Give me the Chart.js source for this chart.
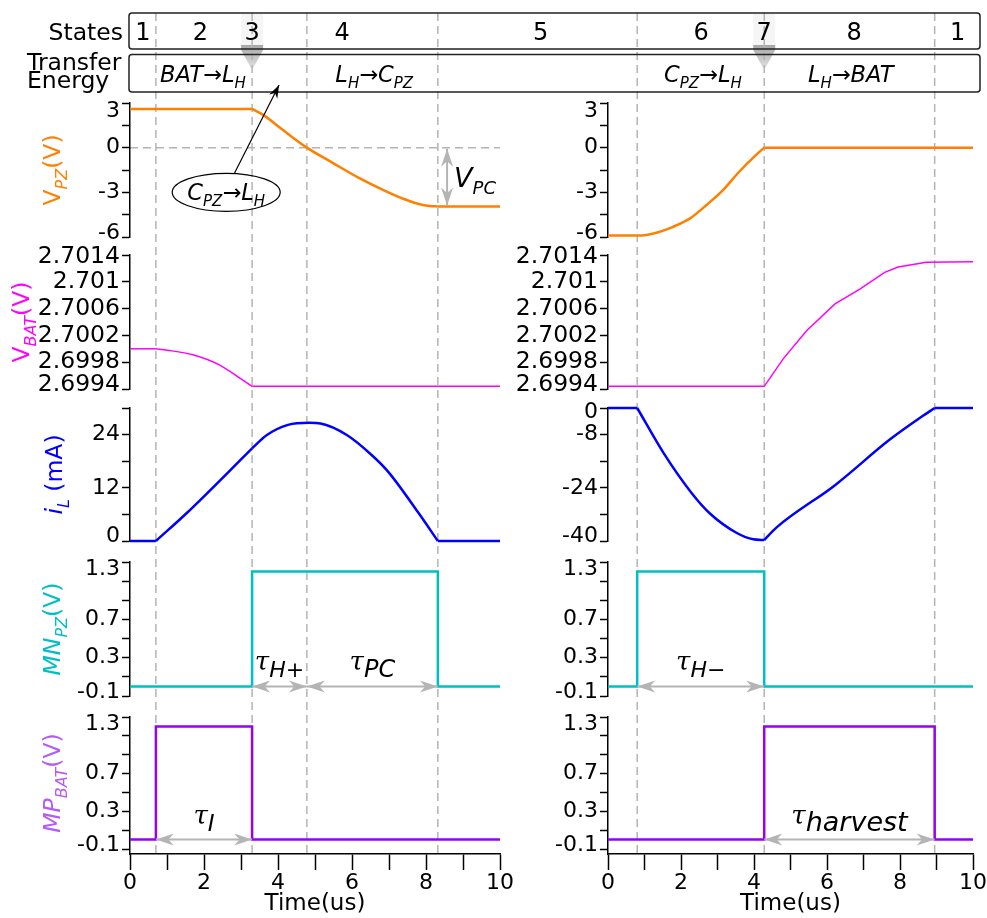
<!DOCTYPE html>
<html>
<head>
<meta charset="utf-8">
<title>Converter waveforms</title>
<script src="https://cdn.jsdelivr.net/npm/chart.js@4.4.1/dist/chart.umd.min.js"></script>
<style>
  body { margin: 0; background: #fff; }
  #wrap { position: relative; width: 987px; height: 918px; overflow: hidden; background: #fff; }
  #wrap canvas { position: absolute; }
</style>
</head>
<body>
<div id="wrap"></div>
<script>
const FONT = '"DejaVu Sans", sans-serif';
Chart.defaults.font.family = FONT;
Chart.defaults.color = '#000';

// time axis (us), same for both half cycles
const timeTicks = [0, 1, 2, 3, 4, 5, 6, 7, 8, 9, 10];
const timeLabels = [0, 2, 4, 6, 8, 10];

// switching instants (dashed lines)
const edgesL = [0.7, 3.3, 4.78, 8.32];
const edgesR = [0.8, 4.28, 8.95];
// waveforms have corners only at these instants
const breaksL = [0.7, 3.3, 8.32];
const breaksR = [0.8, 4.28, 8.95];

// V_PZ (V)
const vpzLT = [0, 3.3, 3.6, 4.1, 4.78, 5.5, 6.2, 6.85, 7.4, 7.8, 8.1, 8.32, 10];
const vpzLV = [2.6, 2.6, 2.2, 1.25, 0, -1.05, -2.05, -2.85, -3.45, -3.78, -3.92, -3.95, -3.95];
const vpzRT = [0, 0.8, 1.0, 1.35, 1.75, 2.25, 2.7, 3.15, 3.6, 4.05, 4.28, 10];
const vpzRV = [-5.9, -5.9, -5.88, -5.7, -5.35, -4.75, -3.85, -2.85, -1.6, -0.5, 0, 0];

// V_BAT (V)
const vbatLT = [0, 0.7, 1.0, 1.7, 2.45, 3.0, 3.3, 10];
const vbatLV = [2.7, 2.7, 2.69998, 2.69991, 2.69975, 2.69955, 2.69944, 2.69944];
const vbatRT = [0, 4.28, 4.8, 5.44, 6.22, 6.9, 7.58, 7.95, 8.72, 10];
const vbatRV = [2.69944, 2.69944, 2.69985, 2.70027, 2.70067, 2.70089, 2.70114, 2.70122, 2.70129, 2.7013];

// i_L (mA)
const ilLT = [0, 0.7, 1.52, 3.3, 3.7, 4.27, 4.85, 5.15, 5.86, 6.53, 6.98, 7.8, 8.32, 10];
const ilLV = [0, 0, 6.2, 20.9, 23.9, 26.2, 26.65, 26.5, 23.9, 19.4, 15.6, 6.3, 0, 0];
const ilRT = [0, 0.8, 1.52, 2.3, 2.8, 3.53, 3.98, 4.28, 4.62, 6.22, 7.72, 8.63, 8.95, 10];
const ilRV = [0, 0, -13.5, -25.7, -31.8, -37.6, -39.5, -39.7, -35.9, -23.2, -9.5, -2.35, 0, 0];

// gate drives (V)
const mnLT = [0, 3.3, 3.3, 8.32, 8.32, 10];
const mnLV = [0, 0, 1.2, 1.2, 0, 0];
const mnRT = [0, 0.8, 0.8, 4.28, 4.28, 10];
const mnRV = [0, 0, 1.2, 1.2, 0, 0];
const mpLT = [0, 0.7, 0.7, 3.3, 3.3, 10];
const mpLV = [0, 0, 1.2, 1.2, 0, 0];
const mpRT = [0, 4.28, 4.28, 8.95, 8.95, 10];
const mpRV = [0, 0, 1.2, 1.2, 0, 0];

// y axis ticks and labels
const vpzTicks = [-6, -4.5, -3, -1.5, 0, 1.5, 3];
const vpzLabels = [3, 0, -3, -6];
const vbatTicks = [2.6994, 2.6998, 2.7002, 2.7006, 2.701, 2.7014];
const vbatLabels = [2.7014, 2.701, 2.7006, 2.7002, 2.6998, 2.6994];
const ilLTicks = [0, 6, 12, 18, 24, 30];
const ilLLabels = [24, 12, 0];
const ilRTicks = [-40, -32, -24, -16, -8, 0];
const ilRLabels = [0, -8, -24, -40];
const gateTicks = [-0.1, 0.1, 0.3, 0.5, 0.7, 0.9, 1.1, 1.3];
const gateLabels = [1.3, 0.7, 0.3, -0.1];

// header: states and energy transfers
const stateNames = ['1', '2', '3', '4', '5', '6', '7', '8', '1'];
const stateCols = ['L', 'L', 'L', 'L', 'L', 'R', 'R', 'R', 'R'];
const stateTimes = [0.35, 1.9, 3.3, 5.73, 11.1, 2.55, 4.28, 6.74, 9.58];
const transferText = [
  [['BAT→L', 'i'], ['H', 'is']],
  [['L', 'i'], ['H', 'is'], ['→C', 'i'], ['PZ', 'is']],
  [['C', 'i'], ['PZ', 'is'], ['→L', 'i'], ['H', 'is']],
  [['L', 'i'], ['H', 'is'], ['→BAT', 'i']]
];
const transferCols = ['L', 'L', 'R', 'R'];
const transferTimes = [1.97, 6.6, 2.6, 6.65];
const markerCols = ['L', 'R'];
const markerTimes = [3.3, 4.28];

const ORANGE = '#ff8000', MAGENTA = '#ff00ff', BLUE = '#0000ff', CYAN = '#00bfc4', PURPLE = '#9900ee';

const cols = {
  L: { left: 0, axisW: 130, w: 514, breaks: breaksL },
  R: { left: 500, axisW: 108, w: 487, breaks: breaksR }
};
const rows = [
  { top: 103, h: 134 },
  { top: 255, h: 134 },
  { top: 408, h: 133 },
  { top: 562, h: 134 },
  { top: 717, h: 137 }
];

const specs = [
  { col: 'L', row: 0, t: vpzLT, v: vpzLV, min: -6, max: 3, ticks: vpzTicks, labels: vpzLabels, color: ORANGE, lw: 2.5, smooth: true,
    shift: [8, 4], title: [['V'], ['PZ', 'is'], ['(V)']], titleX: 52, titleColor: ORANGE },
  { col: 'R', row: 0, t: vpzRT, v: vpzRV, min: -6, max: 3, ticks: vpzTicks, labels: vpzLabels, color: ORANGE, lw: 2.5, smooth: true, shift: [8, 4] },
  { col: 'L', row: 1, t: vbatLT, v: vbatLV, min: 2.6994, max: 2.7014, ticks: vbatTicks, labels: vbatLabels, color: MAGENTA, lw: 1.5, smooth: true,
    shift: [2, 4], size: 23.5, title: [['V'], ['BAT', 'is'], ['(V)']], titleX: 21, titleColor: MAGENTA },
  { col: 'R', row: 1, t: vbatRT, v: vbatRV, min: 2.6994, max: 2.7014, ticks: vbatTicks, labels: vbatLabels, color: MAGENTA, lw: 1.5,
    shift: [2, 4], size: 23.5 },
  { col: 'L', row: 2, t: ilLT, v: ilLV, min: 0, max: 30, ticks: ilLTicks, labels: ilLLabels, color: BLUE, lw: 2.5, smooth: true,
    shift: [4, 5], title: [['i', 'i'], ['L', 'is'], [' (mA)']], titleX: 54, titleColor: BLUE },
  { col: 'R', row: 2, t: ilRT, v: ilRV, min: -40, max: 0, ticks: ilRTicks, labels: ilRLabels, color: BLUE, lw: 2.5, smooth: true, shift: [4, 5] },
  { col: 'L', row: 3, t: mnLT, v: mnLV, min: -0.1, max: 1.3, ticks: gateTicks, labels: gateLabels, color: CYAN, lw: 2.5,
    shift: [7, 4], title: [['MN', 'i'], ['PZ', 'is'], ['(V)']], titleX: 52, titleColor: CYAN },
  { col: 'R', row: 3, t: mnRT, v: mnRV, min: -0.1, max: 1.3, ticks: gateTicks, labels: gateLabels, color: CYAN, lw: 2.5, shift: [7, 4] },
  { col: 'L', row: 4, t: mpLT, v: mpLV, min: -0.153, max: 1.3, ticks: gateTicks, labels: gateLabels, color: PURPLE, lw: 2.5,
    shift: [7, 4], title: [['MP', 'i'], ['BAT', 'is'], ['(V)']], titleX: 52, titleColor: '#b35cf5' },
  { col: 'R', row: 4, t: mpRT, v: mpRV, min: -0.153, max: 1.3, ticks: gateTicks, labels: gateLabels, color: PURPLE, lw: 2.5, shift: [7, 4] }
];

const wrap = document.getElementById('wrap');
function addCanvas(left, top, w, h) {
  const c = document.createElement('canvas');
  c.width = w; c.height = h;
  c.style.left = left + 'px'; c.style.top = top + 'px';
  c.style.width = w + 'px'; c.style.height = h + 'px';
  wrap.appendChild(c);
  return c;
}

// cut a waveform at its switching corners so each piece is smoothed on its own
function pieces(t, v, breaks) {
  const out = [];
  let cur = [];
  t.forEach((x, i) => {
    cur.push({ x, y: v[i] });
    if (i > 0 && i < t.length - 1 && breaks.includes(x) && t[i + 1] !== x) {
      out.push(cur);
      cur = [{ x, y: v[i] }];
    }
  });
  out.push(cur);
  return out;
}

// text with subscripts, parts = [text, flags] (i italic, s subscript)
function drawRich(ctx, parts, x, y, size, align) {
  const sub = Math.round(size * 0.66);
  const fonts = parts.map(p => {
    const f = p[1] || '';
    return (f.includes('i') ? 'italic ' : '') + (f.includes('s') ? sub : size) + 'px ' + FONT;
  });
  let w = 0;
  const ws = parts.map((p, i) => { ctx.font = fonts[i]; const m = ctx.measureText(p[0]).width; w += m; return m; });
  let cx = align === 'left' ? x : align === 'right' ? x - w : x - w / 2;
  ctx.textAlign = 'left';
  ctx.textBaseline = 'alphabetic';
  parts.forEach((p, i) => {
    ctx.font = fonts[i];
    ctx.fillText(p[0], cx, y + ((p[1] || '').includes('s') ? size * 0.27 : 0));
    cx += ws[i];
  });
  return w;
}

// y tick labels kept inside the panel, plus the rotated axis title
const axisText = {
  id: 'axisText',
  afterDraw(chart, args, o) {
    if (!o.labels) return;
    const ctx = chart.ctx, ys = chart.scales.y, a = chart.chartArea;
    const hi = Math.max(...o.ticks), lo = Math.min(...o.ticks);
    ctx.save();
    ctx.fillStyle = '#000';
    ctx.font = o.size + 'px ' + FONT;
    ctx.textAlign = 'right';
    ctx.textBaseline = 'middle';
    o.labels.forEach(v => {
      let py = ys.getPixelForValue(v);
      if (v === hi) py += o.shift[0];
      if (v === lo) py -= o.shift[1];
      ctx.fillText(String(v), a.left - 10, py);
    });
    if (o.title) {
      const cy = (ys.getPixelForValue(hi) + ys.getPixelForValue(lo)) / 2;
      ctx.fillStyle = o.titleColor;
      ctx.translate(o.titleX, cy);
      ctx.rotate(-Math.PI / 2);
      drawRich(ctx, o.title, 0, 23.5 * 0.36, 23.5, 'center');
    }
    ctx.restore();
  }
};

const bg = addCanvas(0, 0, 987, 918);

function makeChart(s) {
  const col = cols[s.col], row = rows[s.row];
  const bottom = s.row === 4;
  const padT = 10, padB = bottom ? 0 : 10, xH = bottom ? 64 : 0;
  const top = row.top - padT;
  const cv = addCanvas(col.left, top, col.w, row.h + padT + padB + xH);
  const parts = s.smooth ? pieces(s.t, s.v, col.breaks) : [s.t.map((t, i) => ({ x: t, y: s.v[i] }))];
  const chart = new Chart(cv, {
    type: 'line',
    data: {
      datasets: parts.map(pts => ({
        data: pts, borderColor: s.color, borderWidth: s.lw, pointRadius: 0, fill: false, clip: false,
        tension: s.smooth ? 0.4 : 0, cubicInterpolationMode: s.smooth ? 'monotone' : 'default'
      }))
    },
    options: {
      responsive: false,
      maintainAspectRatio: false,
      animation: false,
      devicePixelRatio: 1,
      events: [],
      layout: { autoPadding: false, padding: { top: padT, bottom: padB, left: 0, right: 14 } },
      plugins: {
        legend: { display: false },
        tooltip: { enabled: false },
        axisText: { labels: s.labels, ticks: s.ticks, shift: s.shift, size: s.size || 22,
          title: s.title, titleX: s.titleX, titleColor: s.titleColor }
      },
      scales: {
        x: {
          type: 'linear', min: 0, max: 10, display: bottom,
          afterBuildTicks: sc => { sc.ticks = timeTicks.map(v => ({ value: v })); },
          ticks: { autoSkip: false, maxRotation: 0, padding: 0, font: { size: 22 }, color: '#000',
            callback: v => timeLabels.includes(v) ? String(v) : '' },
          grid: { drawOnChartArea: false, tickLength: 16, tickColor: '#000', tickWidth: 1.5 },
          border: { color: '#000', width: 1.5 },
          title: { display: true, text: 'Time(us)', font: { size: 23 }, color: '#000', padding: { top: 0, bottom: 0 } },
          afterFit: sc => { sc.height = xH; }
        },
        y: {
          type: 'linear', min: s.min, max: s.max,
          afterBuildTicks: sc => { sc.ticks = s.ticks.map(v => ({ value: v })); },
          ticks: { display: false },
          grid: { drawOnChartArea: false, tickLength: 8, tickColor: '#000', tickWidth: 1.5 },
          border: { color: '#000', width: 1.5 },
          afterFit: sc => { sc.width = col.axisW; }
        }
      }
    },
    plugins: [axisText]
  });
  chart.$off = { x: col.left, y: top };
  return chart;
}

const charts = specs.map(makeChart);
const ref = { L: charts[0], R: charts[1] };
const px = (c, t) => ref[c].scales.x.getPixelForValue(t) + ref[c].$off.x;
const py = (chart, v) => chart.scales.y.getPixelForValue(v) + chart.$off.y;

// ---------- background: header boxes, markers, dashed guides ----------
(function drawBackground() {
  const ctx = bg.getContext('2d');
  const boxL = px('L', 0) - 1, boxR = px('R', 10) + 7;
  const xAxisY = py(charts[8], -0.153);

  // state 3 / state 7 markers
  markerTimes.forEach((t, i) => {
    const x = px(markerCols[i], t);
    ctx.fillStyle = 'rgba(170,170,170,0.12)';
    ctx.fillRect(x - 11, 14, 22, 31);
    const g = ctx.createLinearGradient(0, 45, 0, 70);
    g.addColorStop(0, 'rgba(150,150,150,0.85)');
    g.addColorStop(1, 'rgba(215,215,215,0.7)');
    ctx.fillStyle = g;
    ctx.beginPath();
    ctx.moveTo(x - 11, 45); ctx.lineTo(x + 11, 45); ctx.lineTo(x + 11, 50);
    ctx.lineTo(x, 70); ctx.lineTo(x - 11, 50); ctx.closePath();
    ctx.fill();
  });

  // dashed guides
  ctx.strokeStyle = '#b4b4b4';
  ctx.lineWidth = 1.5;
  ctx.setLineDash([8, 5]);
  const guides = edgesL.map(t => px('L', t)).concat(edgesR.map(t => px('R', t)));
  guides.forEach(x => {
    ctx.beginPath(); ctx.moveTo(x, 13); ctx.lineTo(x, xAxisY); ctx.stroke();
  });
  const zy = py(charts[0], 0);
  ctx.beginPath(); ctx.moveTo(px('L', 0), zy); ctx.lineTo(px('L', 10), zy); ctx.stroke();
  ctx.setLineDash([]);

  // boxes
  ctx.strokeStyle = '#222';
  ctx.lineWidth = 1.5;
  ctx.beginPath(); ctx.roundRect(boxL, 13, boxR - boxL, 36, 3); ctx.stroke();
  ctx.beginPath(); ctx.roundRect(boxL, 54.5, boxR - boxL, 37.5, 3); ctx.stroke();

  ctx.fillStyle = '#000';
  ctx.font = '23.5px ' + FONT;
  ctx.textAlign = 'right'; ctx.textBaseline = 'alphabetic';
  ctx.fillText('States', 123, 39.5);
  ctx.textAlign = 'left';
  ctx.fillText('Transfer', 27, 70);
  ctx.fillText('Energy', 27, 87.5);

  ctx.font = '24px ' + FONT;
  ctx.textAlign = 'center';
  stateNames.forEach((n, i) => ctx.fillText(n, px(stateCols[i], stateTimes[i]), 40));

  transferText.forEach((parts, i) => drawRich(ctx, parts, px(transferCols[i], transferTimes[i]), 82, 22.5, 'center'));
})();

// ---------- foreground annotations ----------
const fg = addCanvas(0, 0, 987, 918);
(function drawAnnotations() {
  const ctx = fg.getContext('2d');
  const GREY = '#b4b4b4';

  function head(x, y, ang, len, half) {
    ctx.save();
    ctx.translate(x, y); ctx.rotate(ang);
    ctx.beginPath();
    ctx.moveTo(0, 0); ctx.lineTo(-len, -half); ctx.lineTo(-len * 0.7, 0); ctx.lineTo(-len, half);
    ctx.closePath(); ctx.fill();
    ctx.restore();
  }
  function dblArrow(x0, y0, x1, y1) {
    ctx.strokeStyle = GREY; ctx.fillStyle = GREY; ctx.lineWidth = 2;
    const a = Math.atan2(y1 - y0, x1 - x0);
    ctx.beginPath(); ctx.moveTo(x0, y0); ctx.lineTo(x1, y1); ctx.stroke();
    head(x1, y1, a, 18, 6);
    head(x0, y0, a + Math.PI, 18, 6);
  }
  function tauLabel(sub, cx, base, subSize) {
    const tf = 'italic 26px "DejaVu Serif"', sf = 'italic ' + subSize + 'px ' + FONT;
    ctx.font = tf; const wt = ctx.measureText('τ').width;
    ctx.font = sf; const ws = ctx.measureText(sub).width;
    const x = cx - (wt + ws) / 2;
    ctx.fillStyle = '#000'; ctx.textAlign = 'left'; ctx.textBaseline = 'alphabetic';
    ctx.font = tf; ctx.fillText('τ', x, base - 7);
    ctx.font = sf; ctx.fillText(sub, x + wt, base);
  }

  // pulse widths
  const taus = [
    ['L', 6, 3.3, 4.78, 'H+', 22],
    ['L', 6, 4.78, 8.32, 'PC', 24],
    ['L', 8, 0.7, 3.3, 'I', 23],
    ['R', 7, 0.8, 4.28, 'H−', 22],
    ['R', 9, 4.28, 8.95, 'harvest', 27]
  ];
  taus.forEach(([c, idx, t0, t1, sub, size]) => {
    const y = py(charts[idx], 0);
    const x0 = px(c, t0), x1 = px(c, t1);
    dblArrow(x0, y, x1, y);
    tauLabel(sub, (x0 + x1) / 2, y - 9, size);
  });

  // V_PC swing
  const xv = px('L', 8.57);
  const y0 = py(charts[0], 0), y1 = py(charts[0], vpzLV[vpzLV.length - 1]);
  dblArrow(xv, y0 + 1, xv, y1 - 1);
  ctx.fillStyle = '#000';
  drawRich(ctx, [['V', 'i'], ['PC', 'is']], xv + 7, (y0 + y1) / 2 + 10, 27, 'left');

  // C_PZ -> L_H callout
  const ex = px('L', 2.6), ey = py(charts[0], -3), rx = 54, ry = 19;
  ctx.strokeStyle = '#000'; ctx.fillStyle = '#000'; ctx.lineWidth = 1.2;
  ctx.beginPath(); ctx.ellipse(ex, ey, rx, ry, 0, 0, Math.PI * 2); ctx.stroke();
  drawRich(ctx, [['C', 'i'], ['PZ', 'is'], ['→L', 'i'], ['H', 'is']], ex, ey + 8, 22.5, 'center');
  const sx = ex + 8, sy = ey - ry + 0.5, tx = px('L', 4.03), ty = 85;
  ctx.beginPath(); ctx.moveTo(sx, sy); ctx.lineTo(tx, ty); ctx.stroke();
  head(tx, ty, Math.atan2(ty - sy, tx - sx), 13, 4.5);
})();
</script>
</body>
</html>
